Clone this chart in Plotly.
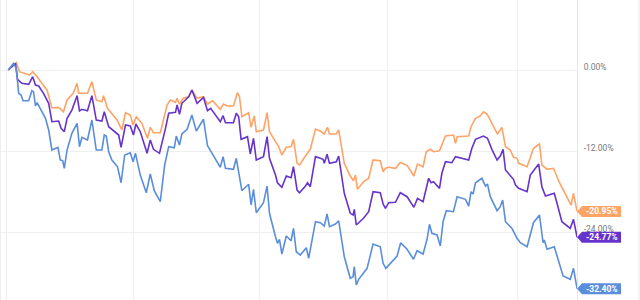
import plotly.graph_objects as go

# Sessions (x positions along the time axis) and cumulative returns in %
orange_t = [0, 2.0, 2.8, 4.3, 5.3, 6.1, 7.2, 8.4, 9.7, 10.9, 12.6, 13.8, 14.7, 16.2, 17.2, 17.6, 19.8, 20.9, 22.0, 23.4,
            23.8, 24.8, 27.2, 28.4, 29.3, 30.5, 31.2, 32.0, 33.4, 34.8, 35.5, 36.3, 38.0, 39.7, 40.5, 41.8, 42.2, 42.8, 43.7, 45.1,
            45.9, 47.2, 48.8, 49.8, 51.1, 53.0, 53.8, 54.7, 56.3, 57.3, 57.8, 58.4, 60.1, 60.7, 61.5, 62.0, 63.8, 64.7, 65.3, 66.8,
            67.6, 68.4, 69.5, 70.7, 71.3, 72.2, 72.8, 74.3, 75.5, 76.8, 78.0, 79.0, 79.8, 80.3, 82.0, 82.6, 84.0, 85.5, 86.3, 86.8,
            87.3, 88.8, 90.1, 91.2, 93.0, 93.7, 94.3, 95.1, 96.8, 98.0, 99.7, 101.4, 102.3, 103.7, 104.5, 105.5, 106.3, 107.8, 109.3, 111.3,
            111.8, 112.2, 115.1, 115.7, 116.8, 118.0, 118.8, 119.7, 120.9, 122.3, 123.4, 124.3, 125.5, 126.3, 127.2, 127.6, 129.7, 131.3, 132.8, 133.4,
            134.7, 136.3, 137.8, 138.8, 140.7, 141.3, 142.2]
orange_v = [0.00, 1.08, -0.25, -0.49, -0.74, -0.25, -0.99, -1.97, -2.96, -5.63, -5.53, -6.18, -4.44, -3.45, -1.97, -3.45, -3.45, -1.73, -4.44, -4.70,
            -3.81, -5.67, -7.41, -8.89, -6.33, -6.67, -8.15, -6.92, -7.90, -10.12, -8.49, -9.29, -9.29, -5.19, -4.44, -4.79, -4.19, -5.08, -4.19, -3.96,
            -2.96, -4.19, -3.96, -5.04, -4.55, -5.82, -5.04, -5.33, -5.33, -3.36, -3.96, -6.92, -6.33, -8.49, -6.81, -9.14, -8.89, -6.33, -9.14, -10.62,
            -11.36, -12.59, -11.45, -11.36, -10.27, -13.82, -14.07, -12.74, -11.75, -8.74, -9.04, -9.48, -8.49, -9.48, -9.48, -8.89, -13.82, -15.70, -16.40, -15.56,
            -17.67, -16.55, -16.04, -13.33, -13.44, -15.07, -14.56, -14.41, -14.56, -13.70, -14.12, -15.70, -13.93, -14.33, -12.10, -11.75, -12.10, -11.96, -9.78, -9.63,
            -10.86, -9.88, -9.78, -8.40, -7.16, -6.81, -6.18, -6.52, -7.90, -9.48, -8.49, -11.36, -11.85, -12.93, -13.08, -13.82, -14.33, -11.60, -10.96, -14.07,
            -14.71, -14.56, -16.70, -17.78, -20.00, -18.27, -20.95]

purple_t = [0, 1.8, 2.3, 3.4, 5.1, 6.1, 6.8, 7.6, 8.8, 10.1, 10.9, 12.6, 13.2, 14.0, 14.7, 15.9, 17.2, 17.8, 18.4, 19.8,
            20.9, 22.0, 23.4, 24.0, 25.1, 26.8, 27.6, 28.2, 29.3, 30.5, 31.3, 31.9, 33.0, 34.7, 35.5, 36.3, 37.8, 39.3, 40.1, 41.8,
            42.2, 42.8, 43.4, 45.1, 45.9, 47.2, 48.8, 49.8, 50.6, 53.0, 53.7, 54.3, 56.3, 57.0, 57.6, 58.2, 59.8, 60.5, 61.3, 62.0,
            63.8, 64.7, 65.3, 66.8, 67.3, 68.4, 69.5, 70.7, 71.3, 72.2, 72.8, 74.3, 74.8, 75.5, 76.8, 78.0, 78.7, 79.0, 79.7, 80.3,
            82.0, 82.6, 84.0, 85.5, 86.2, 86.5, 87.0, 88.8, 90.1, 91.2, 93.0, 93.7, 94.3, 95.1, 96.8, 98.0, 99.7, 101.4, 102.3, 103.7,
            105.1, 105.7, 106.3, 107.8, 108.4, 109.3, 110.9, 111.8, 115.1, 115.9, 116.8, 118.8, 119.8, 120.9, 122.2, 123.0, 123.7, 124.3, 125.5, 126.3,
            126.8, 127.6, 129.7, 130.5, 132.6, 133.4, 134.3, 136.5, 137.3, 138.4, 140.5, 141.3, 142.2]
purple_v = [0.00, 0.99, -1.38, -1.97, -2.12, -0.99, -2.22, -2.37, -3.45, -4.93, -7.66, -7.56, -8.64, -9.14, -7.16, -5.93, -3.81, -6.07, -5.82, -6.03,
            -3.81, -7.41, -7.56, -6.18, -8.40, -9.29, -9.63, -11.45, -8.15, -8.30, -9.63, -8.00, -9.14, -12.34, -10.37, -11.75, -12.34, -8.64, -6.41, -6.27,
            -5.19, -6.56, -4.93, -3.96, -2.96, -4.93, -4.07, -6.03, -5.67, -7.66, -6.77, -7.81, -7.81, -6.41, -6.92, -10.27, -9.88, -12.44, -10.12, -13.33,
            -12.84, -9.88, -13.08, -15.56, -16.70, -17.38, -15.70, -15.96, -14.33, -17.78, -18.18, -17.19, -16.70, -17.29, -12.84, -13.08, -13.23, -13.82, -12.49, -13.82,
            -13.59, -12.74, -18.27, -21.23, -21.48, -20.64, -22.96, -21.97, -20.99, -18.03, -18.18, -19.85, -20.49, -19.66, -19.60, -18.18, -18.77, -20.34, -19.01, -19.51,
            -16.04, -16.70, -16.55, -17.53, -15.30, -13.59, -13.73, -12.84, -13.33, -11.60, -10.27, -9.78, -10.12, -11.75, -13.33, -12.74, -11.75, -14.81, -15.56, -16.19,
            -17.04, -17.53, -18.03, -15.56, -13.93, -17.29, -18.67, -18.27, -20.00, -22.47, -23.45, -22.12, -24.77]

blue_t = [0, 1.3, 2.0, 2.6, 3.2, 3.7, 5.1, 5.9, 6.3, 6.8, 7.2, 8.0, 9.3, 10.1, 10.9, 12.4, 13.0, 13.6, 14.0, 14.7,
          15.9, 17.2, 17.8, 18.4, 19.8, 20.9, 22.0, 23.4, 24.0, 24.5, 25.1, 25.9, 27.3, 28.2, 29.1, 30.5, 31.2, 31.8, 33.0, 34.5,
          35.5, 36.5, 38.0, 39.1, 40.1, 41.5, 42.0, 42.8, 43.4, 44.7, 45.9, 47.0, 48.8, 49.8, 51.2, 53.0, 53.7, 54.3, 56.3, 57.0,
          58.4, 60.1, 60.7, 61.3, 62.0, 63.8, 64.7, 65.3, 66.8, 67.3, 67.8, 68.4, 69.5, 70.7, 71.3, 72.0, 73.0, 74.5, 75.1, 76.8,
          78.0, 79.0, 79.7, 80.3, 81.8, 82.6, 84.0, 85.5, 86.2, 86.5, 87.0, 87.6, 89.7, 91.2, 93.0, 93.7, 94.4, 95.5, 97.2, 98.1,
          99.7, 101.3, 102.2, 103.7, 104.7, 105.3, 105.9, 107.2, 108.0, 108.7, 109.5, 111.3, 112.2, 114.3, 115.1, 115.7, 116.2, 116.8, 118.4, 119.3,
          119.8, 120.5, 122.2, 123.0, 123.6, 124.3, 125.9, 127.2, 128.0, 129.7, 131.3, 132.8, 133.7, 134.0, 134.7, 136.5, 137.6, 138.7, 140.5, 141.3,
          142.2]
blue_v = [0.00, 0.99, 0.25, -3.45, -3.70, -4.55, -4.55, -3.07, -3.21, -5.33, -4.84, -5.67, -7.16, -8.89, -11.85, -11.45, -13.33, -13.44, -14.56, -11.85,
          -9.38, -7.90, -11.36, -9.97, -10.37, -7.41, -11.85, -11.85, -9.63, -9.78, -12.10, -13.33, -14.33, -16.70, -12.59, -12.25, -13.59, -12.34, -15.56, -18.18,
          -15.41, -17.88, -19.51, -14.07, -11.36, -11.51, -9.78, -11.11, -9.48, -8.79, -6.67, -9.04, -7.30, -11.19, -12.59, -14.41, -12.84, -14.56, -14.71, -13.08,
          -17.88, -16.93, -20.00, -17.67, -21.14, -19.66, -17.19, -21.23, -24.70, -25.67, -25.08, -27.26, -24.59, -25.29, -23.45, -26.92, -27.41, -26.33, -27.90, -22.47,
          -22.62, -23.11, -21.33, -23.21, -22.81, -22.33, -27.66, -30.86, -30.62, -29.14, -31.85, -31.01, -29.38, -25.78, -26.18, -28.64, -29.38, -28.64, -27.56, -25.59,
          -26.56, -28.04, -26.77, -27.26, -25.08, -22.86, -24.19, -24.44, -26.07, -22.47, -20.84, -20.99, -18.77, -19.16, -20.15, -18.03, -18.37, -16.70, -16.04, -17.19,
          -16.89, -18.77, -20.84, -20.25, -19.26, -22.47, -23.45, -24.93, -25.59, -26.18, -22.62, -21.48, -25.59, -25.19, -26.56, -26.18, -28.40, -30.52, -31.01, -29.38,
          -32.40]

y_ticks = [0, -12, -24]
y_tick_labels = ["0.00%", "-12.00%", "-24.00%"]
month_grid = [-0.33, 31.2, 62.9, 94.7, 127.2]

series = [
    ("orange", orange_t, orange_v, "#FFA366"),
    ("purple", purple_t, purple_v, "#6633CC"),
    ("blue", blue_t, blue_v, "#5A8EDC"),
]

X_RANGE = [-2.07, 142.18]
Y_RANGE = [-34.07, 10.37]

fig = go.Figure()
for name, t, v, col in series:
    fig.add_trace(go.Scatter(x=t, y=v, mode="lines", name=name,
                             line=dict(color=col, width=1.6), hoverinfo="skip"))

shapes = []
annotations = []
for name, t, v, col in series:
    last = v[-1]
    ypos = (last - Y_RANGE[0]) / (Y_RANGE[1] - Y_RANGE[0])
    shapes.append(dict(type="path", xref="paper", yref="paper",
                       xsizemode="pixel", ysizemode="pixel",
                       xanchor=1.0, yanchor=ypos,
                       path="M0,0 L5,5.5 L44,5.5 L44,-5.5 L5,-5.5 Z",
                       fillcolor=col, line=dict(width=0), layer="above"))
    annotations.append(dict(xref="paper", yref="paper", x=1.0, y=ypos,
                            xanchor="left", yanchor="middle", xshift=7,
                            text="<b>%.2f%%</b>" % last, showarrow=False,
                            font=dict(family="Roboto", size=8.5, color="white")))

# outer border lines
shapes.append(dict(type="line", xref="paper", yref="paper", x0=639 / 577, x1=639 / 577, y0=0, y1=1,
                   line=dict(color="#e8e8e8", width=1)))
shapes.append(dict(type="line", xref="paper", yref="paper", x0=0.0009, x1=0.0009, y0=0, y1=1,
                   line=dict(color="#eeeeee", width=1)))

fig.update_layout(
    width=640, height=300,
    margin=dict(l=0, r=63, t=0, b=0),
    paper_bgcolor="white", plot_bgcolor="white",
    showlegend=False,
    shapes=shapes, annotations=annotations,
    xaxis=dict(range=X_RANGE, tickvals=month_grid, showticklabels=False, ticks="",
               showgrid=True, gridcolor="#f0f0f0", gridwidth=1, zeroline=False, showline=False),
    yaxis=dict(range=Y_RANGE, side="right", tickvals=y_ticks, ticktext=y_tick_labels,
               showgrid=True, gridcolor="#efefef", gridwidth=1, zeroline=False,
               showline=True, linecolor="#e6e6e6", linewidth=1, ticks="",
               ticklabelstandoff=4, ticklabelshift=-3,
               tickfont=dict(family="Roboto", size=8.5, color="#777777")),
)

fig.write_html("out.html")
